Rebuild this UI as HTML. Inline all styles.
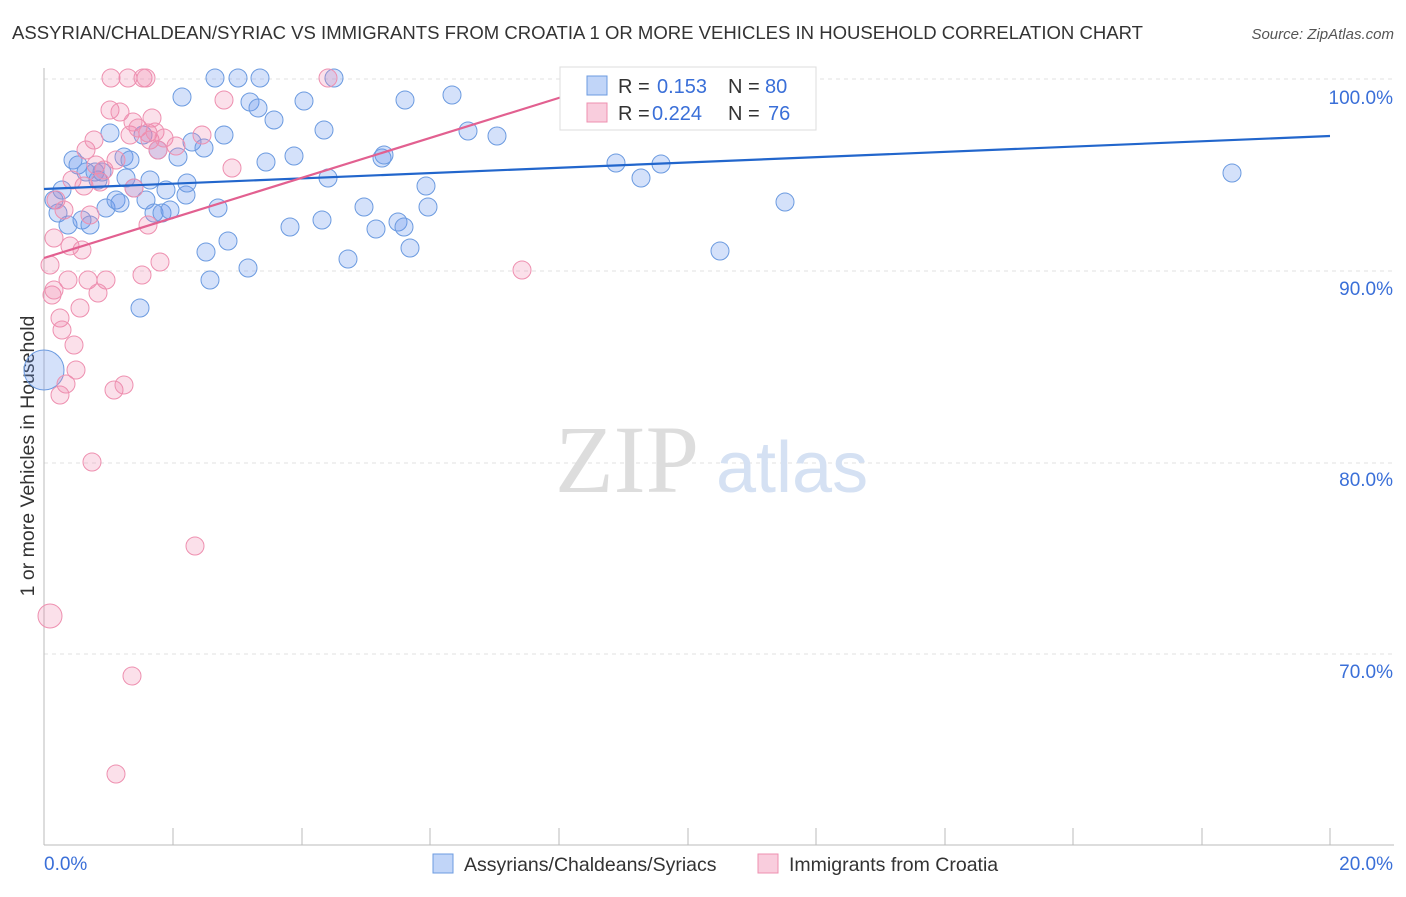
<!DOCTYPE html>
<html><head><meta charset="utf-8"><style>
body{margin:0;background:#fff;width:1406px;height:892px;overflow:hidden;font-family:"Liberation Sans",sans-serif}
</style></head><body>
<svg width="1406" height="892" xmlns="http://www.w3.org/2000/svg" font-family="Liberation Sans, sans-serif">
<text x="12" y="39" font-size="18" fill="#333" textLength="1131" lengthAdjust="spacingAndGlyphs">ASSYRIAN/CHALDEAN/SYRIAC VS IMMIGRANTS FROM CROATIA 1 OR MORE VEHICLES IN HOUSEHOLD CORRELATION CHART</text>
<text x="1394" y="39" font-size="15" fill="#555" text-anchor="end" font-style="italic">Source: ZipAtlas.com</text>
<g stroke="#e2e2e2" stroke-dasharray="4,4">
<line x1="44" y1="79" x2="1394" y2="79"/><line x1="44" y1="271" x2="1394" y2="271"/><line x1="44" y1="463" x2="1394" y2="463"/><line x1="44" y1="654" x2="1394" y2="654"/>
</g>
<g fill="#3a6fd8" font-size="19" text-anchor="end">
<text x="1393" y="104">100.0%</text><text x="1393" y="295">90.0%</text><text x="1393" y="486">80.0%</text><text x="1393" y="678">70.0%</text>
</g>
<line x1="44" y1="68" x2="44" y2="845" stroke="#bbb"/>
<line x1="44" y1="845" x2="1394" y2="845" stroke="#bbb"/>
<g stroke="#bbb"><line x1="173" y1="828" x2="173" y2="845"/><line x1="302" y1="828" x2="302" y2="845"/><line x1="430" y1="828" x2="430" y2="845"/><line x1="559" y1="828" x2="559" y2="845"/><line x1="688" y1="828" x2="688" y2="845"/><line x1="816" y1="828" x2="816" y2="845"/><line x1="945" y1="828" x2="945" y2="845"/><line x1="1073" y1="828" x2="1073" y2="845"/><line x1="1202" y1="828" x2="1202" y2="845"/><line x1="1330" y1="828" x2="1330" y2="845"/></g>
<text x="44" y="870" fill="#3a6fd8" font-size="19">0.0%</text>
<text x="1393" y="870" fill="#3a6fd8" font-size="19" text-anchor="end">20.0%</text>
<text transform="translate(34,456) rotate(-90)" font-size="19.5" fill="#333" text-anchor="middle">1 or more Vehicles in Household</text>
<text x="555" y="492" font-size="96" fill="#ddd" font-family="Liberation Serif, serif">ZIP</text>
<text x="716" y="492" font-size="72" fill="#d5e1f3">atlas</text>
<g fill="rgba(100,149,237,0.28)" stroke="#6c9be0">
<circle cx="44" cy="370" r="20"/>
<circle cx="54" cy="200" r="9"/><circle cx="58" cy="213" r="9"/><circle cx="62" cy="190" r="9"/><circle cx="68" cy="225" r="9"/><circle cx="73" cy="160" r="9"/><circle cx="78" cy="165" r="9"/><circle cx="82" cy="220" r="9"/><circle cx="86" cy="172" r="9"/><circle cx="90" cy="225" r="9"/><circle cx="95" cy="172" r="9"/><circle cx="98" cy="180" r="9"/><circle cx="102" cy="172" r="9"/><circle cx="106" cy="208" r="9"/><circle cx="110" cy="133" r="9"/><circle cx="116" cy="200" r="9"/><circle cx="120" cy="203" r="9"/><circle cx="124" cy="157" r="9"/><circle cx="126" cy="178" r="9"/><circle cx="130" cy="160" r="9"/><circle cx="134" cy="188" r="9"/><circle cx="140" cy="308" r="9"/><circle cx="143" cy="135" r="9"/><circle cx="146" cy="200" r="9"/><circle cx="150" cy="180" r="9"/><circle cx="154" cy="213" r="9"/><circle cx="158" cy="150" r="9"/><circle cx="162" cy="213" r="9"/><circle cx="166" cy="190" r="9"/><circle cx="170" cy="210" r="9"/><circle cx="178" cy="157" r="9"/><circle cx="182" cy="97" r="9"/><circle cx="186" cy="195" r="9"/><circle cx="187" cy="183" r="9"/><circle cx="192" cy="142" r="9"/><circle cx="204" cy="148" r="9"/><circle cx="206" cy="252" r="9"/><circle cx="210" cy="280" r="9"/><circle cx="215" cy="78" r="9"/><circle cx="218" cy="208" r="9"/><circle cx="224" cy="135" r="9"/><circle cx="228" cy="241" r="9"/><circle cx="238" cy="78" r="9"/><circle cx="248" cy="268" r="9"/><circle cx="250" cy="102" r="9"/><circle cx="258" cy="108" r="9"/><circle cx="260" cy="78" r="9"/><circle cx="266" cy="162" r="9"/><circle cx="274" cy="120" r="9"/><circle cx="290" cy="227" r="9"/><circle cx="294" cy="156" r="9"/><circle cx="304" cy="101" r="9"/><circle cx="322" cy="220" r="9"/><circle cx="324" cy="130" r="9"/><circle cx="328" cy="178" r="9"/><circle cx="334" cy="78" r="9"/><circle cx="348" cy="259" r="9"/><circle cx="364" cy="207" r="9"/><circle cx="376" cy="229" r="9"/><circle cx="382" cy="158" r="9"/><circle cx="384" cy="155" r="9"/><circle cx="398" cy="222" r="9"/><circle cx="404" cy="227" r="9"/><circle cx="405" cy="100" r="9"/><circle cx="410" cy="248" r="9"/><circle cx="426" cy="186" r="9"/><circle cx="428" cy="207" r="9"/><circle cx="452" cy="95" r="9"/><circle cx="468" cy="131" r="9"/><circle cx="497" cy="136" r="9"/><circle cx="616" cy="163" r="9"/><circle cx="641" cy="178" r="9"/><circle cx="661" cy="164" r="9"/><circle cx="720" cy="251" r="9"/><circle cx="752" cy="97" r="9"/><circle cx="785" cy="202" r="9"/><circle cx="1232" cy="173" r="9"/>
</g>
<g fill="rgba(240,130,170,0.25)" stroke="#ee90b0">
<circle cx="50" cy="616" r="12"/><circle cx="50" cy="265" r="9"/><circle cx="52" cy="295" r="9"/><circle cx="54" cy="290" r="9"/><circle cx="54" cy="238" r="9"/><circle cx="56" cy="200" r="9"/><circle cx="60" cy="318" r="9"/><circle cx="60" cy="395" r="9"/><circle cx="62" cy="330" r="9"/><circle cx="64" cy="210" r="9"/><circle cx="66" cy="384" r="9"/><circle cx="68" cy="280" r="9"/><circle cx="70" cy="246" r="9"/><circle cx="72" cy="180" r="9"/><circle cx="74" cy="345" r="9"/><circle cx="76" cy="370" r="9"/><circle cx="80" cy="308" r="9"/><circle cx="82" cy="250" r="9"/><circle cx="84" cy="186" r="9"/><circle cx="86" cy="150" r="9"/><circle cx="88" cy="280" r="9"/><circle cx="90" cy="215" r="9"/><circle cx="92" cy="462" r="9"/><circle cx="94" cy="140" r="9"/><circle cx="96" cy="165" r="9"/><circle cx="98" cy="293" r="9"/><circle cx="100" cy="182" r="9"/><circle cx="104" cy="170" r="9"/><circle cx="106" cy="280" r="9"/><circle cx="110" cy="110" r="9"/><circle cx="111" cy="78" r="9"/><circle cx="114" cy="390" r="9"/><circle cx="116" cy="160" r="9"/><circle cx="120" cy="112" r="9"/><circle cx="124" cy="385" r="9"/><circle cx="128" cy="78" r="9"/><circle cx="130" cy="135" r="9"/><circle cx="132" cy="676" r="9"/><circle cx="133" cy="122" r="9"/><circle cx="134" cy="188" r="9"/><circle cx="138" cy="128" r="9"/><circle cx="142" cy="275" r="9"/><circle cx="143" cy="78" r="9"/><circle cx="146" cy="78" r="9"/><circle cx="148" cy="133" r="9"/><circle cx="148" cy="225" r="9"/><circle cx="150" cy="140" r="9"/><circle cx="152" cy="118" r="9"/><circle cx="155" cy="132" r="9"/><circle cx="158" cy="150" r="9"/><circle cx="160" cy="262" r="9"/><circle cx="164" cy="138" r="9"/><circle cx="176" cy="146" r="9"/><circle cx="195" cy="546" r="9"/><circle cx="202" cy="135" r="9"/><circle cx="224" cy="100" r="9"/><circle cx="232" cy="168" r="9"/><circle cx="328" cy="78" r="9"/><circle cx="522" cy="270" r="9"/><circle cx="706" cy="78" r="9"/><circle cx="116" cy="774" r="9"/>
</g>
<line x1="44" y1="189" x2="1330" y2="136" stroke="#2266cc" stroke-width="2.2"/>
<line x1="44" y1="258" x2="610" y2="82" stroke="#e26090" stroke-width="2.2"/>
<rect x="560" y="67" width="256" height="63" fill="#fff" stroke="#ddd"/>
<rect x="587" y="76" width="20" height="19" fill="rgba(100,149,237,0.4)" stroke="#6c9be0"/>
<rect x="587" y="103" width="20" height="19" fill="rgba(240,130,170,0.4)" stroke="#ee90b0"/>
<g font-size="20"><text x="618" y="93" fill="#333">R = </text><text x="657" y="93" fill="#3a6fd8">0.153</text><text x="728" y="93" fill="#333">N = </text><text x="765" y="93" fill="#3a6fd8">80</text>
<text x="618" y="120" fill="#333">R = </text><text x="652" y="120" fill="#3a6fd8">0.224</text><text x="728" y="120" fill="#333">N = </text><text x="768" y="120" fill="#3a6fd8">76</text></g>
<rect x="433" y="854" width="20" height="19" fill="rgba(100,149,237,0.4)" stroke="#6c9be0"/>
<text x="464" y="871" font-size="19.5" fill="#333">Assyrians/Chaldeans/Syriacs</text>
<rect x="758" y="854" width="20" height="19" fill="rgba(240,130,170,0.4)" stroke="#ee90b0"/>
<text x="789" y="871" font-size="19.5" fill="#333">Immigrants from Croatia</text>
</svg>
</body></html>
